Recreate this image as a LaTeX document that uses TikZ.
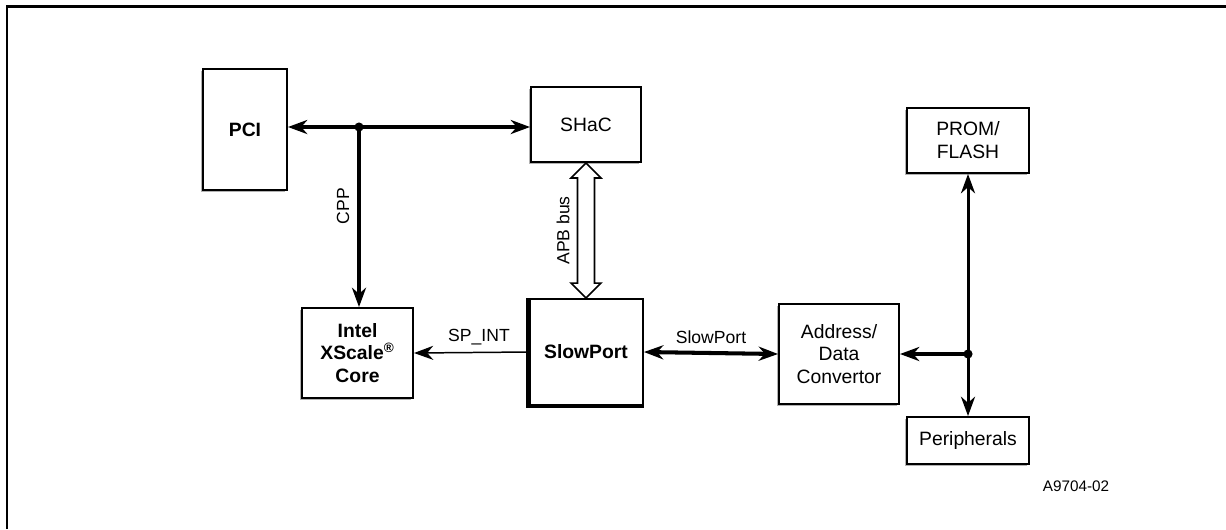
\documentclass[tikz,border=0pt]{standalone}
\usepackage{fontspec}
\setmainfont{Liberation Sans}
\usetikzlibrary{positioning,arrows.meta,calc,shadows}
\tikzset{
  blk/.style={draw, line width=1.1pt, align=center, fill=white,
              font=\fontsize{11}{13}\selectfont, inner sep=2pt,
              drop shadow={shadow xshift=-1.2pt, shadow yshift=-1.2pt,
                           fill=black!30, opacity=1}},
  bblk/.style={blk, font=\fontsize{11}{13}\selectfont\bfseries},
  lbl/.style={font=\fontsize{10}{12}\selectfont, inner sep=1pt},
  bus/.style={line width=2.3pt},
  thinbus/.style={line width=0.85pt},
  hollow/.style={line width=0.9pt, fill=white, line join=miter},
}

\begin{document}
\begin{tikzpicture}[x=0.02cm, y=-0.02cm,
    >={Stealth[length=11pt, width=8pt, inset=3.5pt]}]
  \useasboundingbox (0,0) rectangle (1226,529);
  \draw[line width=1.4pt] (7,529) -- (7,6.5) -- (1226,6.5);

  % boxes
  \node[bblk, minimum width=1.68cm, minimum height=2.42cm] (pci) at (245,129.5) {PCI};
  \node[blk, minimum width=2.2cm, minimum height=1.5cm] (shac) at (586,124.5) {SHaC};
  \node[blk, minimum width=2.44cm, minimum height=1.3cm] (prom) at (968,140.5) {PROM/\\FLASH};
  \node[bblk, minimum width=2.22cm, minimum height=1.8cm] (core) at (357.5,353) {Intel\\XScale\textsuperscript{®}\\Core};
  \node[bblk, minimum width=2.28cm, minimum height=2.12cm] (slow) at (586,352) {SlowPort};
  \node[blk, minimum width=2.4cm, minimum height=2.0cm] (conv) at (839,354) {Address/\\Data\\Convertor};
  \node[blk, minimum width=2.44cm, minimum height=0.94cm] (peri) at (968,440.5) {Peripherals};
  \draw[line width=2.8pt] (slow.north west) -- (slow.south west) -- (slow.south east);

  \node[font=\fontsize{8.7}{10}\selectfont] (fig) at (1076,486) {A9704-02};

  % PCI / CPP bus
  \coordinate (j1) at (359,127);
  \draw[bus, <->] (pci.east |- j1) -- (shac.west |- j1);
  \draw[bus, ->] (j1) -- (j1 |- core.north);
  \fill (j1) circle[radius=2.6pt];
  \node[lbl, rotate=90] (cpp) at ($(j1)!0.44!(j1 |- core.north)+(-16,0)$) {CPP};

  % APB bus
  \draw[hollow] (shac.south) -- ++(15,15) -- ++(-6.5,0)
    -- ($(slow.north)+(8.5,-15)$) -- ++(6.5,0) -- (slow.north)
    -- ++(-15,-15) -- ++(6.5,0) -- ($(shac.south)+(-8.5,15)$)
    -- ++(-6.5,0) -- cycle;
  \node[lbl, rotate=90] (apb) at ($(shac.south)!0.5!(slow.north)+(-23,0)$) {APB bus};

  % SlowPort side
  \draw[thinbus, ->] (slow.west) -- node[lbl, above=3pt, pos=0.43] {SP\_INT} (core.east);
  \draw[bus, <->] (slow.east) -- node[lbl, above=3pt] {SlowPort} (conv.west);

  % expansion bus
  \coordinate (j2) at (prom.south |- conv.east);
  \draw[line width=1.7pt, <->] (prom.south) -- (peri.north);
  \draw[bus, ->] (j2) -- (conv.east);
  \fill (j2) circle[radius=2.6pt];
\end{tikzpicture}
\end{document}
